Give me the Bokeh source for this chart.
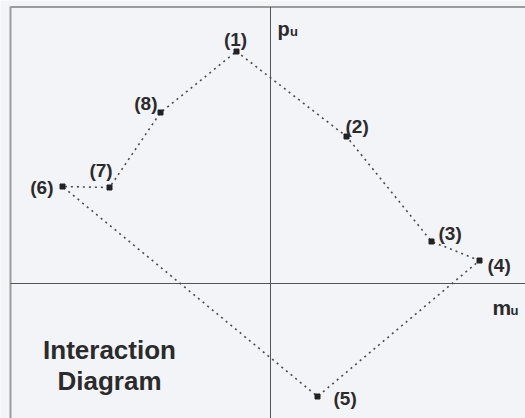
from bokeh.plotting import figure
from bokeh.models import ColumnDataSource, Range1d
from bokeh.core.properties import value
from bokeh.embed import file_html
from bokeh.resources import INLINE

# Interaction diagram: moment m_u against axial force p_u, points (1)..(8)
labels = ["(1)", "(2)", "(3)", "(4)", "(5)", "(6)", "(7)", "(8)"]
m_u = [-3.4, 7.6, 16.1, 20.9, 4.7, -20.8, -16.1, -11.0]
p_u = [23.2, 14.7, 4.2, 2.3, -11.3, 9.7, 9.6, 17.1]

# label placement around each point (screen pixels)
label_dx = [-1, -1, 7, 8, 16, -9, -8.5, -3]
label_dy = [-12, -10, -8.5, 4.5, 1.5, 1, -17, -9]
label_align = ["center", "left", "left", "left", "left", "right", "center", "right"]

BG = "#f3f4f7"
INK = "#2b2b2b"
FONT = value("Liberation Sans")

p = figure(width=525, height=418, output_backend="svg", toolbar_location=None,
           x_range=Range1d(-27.0, 25.5), y_range=Range1d(-13.5, 28.3),
           min_border=0)
p.axis.visible = False
p.grid.visible = False
p.outline_line_color = None
p.background_fill_color = BG
p.border_fill_color = BG

# outer frame
p.quad(left=[-26.0], right=[27.0], top=[27.65], bottom=[-15.0],
       fill_color=None, line_color="#9c9c9c", line_width=2)

# coordinate axes through the origin
p.segment(x0=[0, -26.0], y0=[27.65, 0], x1=[0, 27.0], y1=[-15.0, 0],
          line_color="#555555", line_width=1)

# closed dotted path through the points 1 -> 8 -> 1
src = ColumnDataSource(dict(x=m_u, y=p_u, label=labels, dx=label_dx,
                            dy=label_dy, align=label_align))
p.line(m_u + m_u[:1], p_u + p_u[:1], line_color="#4a4a4a", line_width=1.6,
       line_dash="2 4")
p.scatter("x", "y", source=src, marker="square", size=5,
          fill_color="#222222", line_color="#222222")

p.text("x", "y", text="label", source=src, x_offset="dx", y_offset="dy",
       text_align="align", text_baseline="middle", text_font=FONT,
       text_font_style="bold", text_font_size="19px", text_color=INK)

# axis names with subscript
p.text(x=[0.7], y=[25.5], text=["p"], text_font=FONT, text_font_style="bold",
       text_font_size="20px", text_color=INK, text_baseline="alphabetic")
p.text(x=[1.95], y=[25.25], text=["u"], text_font=FONT, text_font_style="bold",
       text_font_size="13px", text_color=INK, text_baseline="alphabetic")
p.text(x=[22.2], y=[-2.4], text=["m"], text_font=FONT, text_font_style="bold",
       text_font_size="21px", text_color=INK, text_baseline="alphabetic")
p.text(x=[24.0], y=[-2.7], text=["u"], text_font=FONT, text_font_style="bold",
       text_font_size="13px", text_color=INK, text_baseline="alphabetic")

# title block
p.text(x=[-16.1, -16.1], y=[-6.6, -9.7], text=["Interaction", "Diagram"],
       text_font=FONT, text_font_style="bold", text_font_size="26px",
       text_color=INK, text_align="center", text_baseline="alphabetic")

open("out.html", "w").write(file_html(p, INLINE))
